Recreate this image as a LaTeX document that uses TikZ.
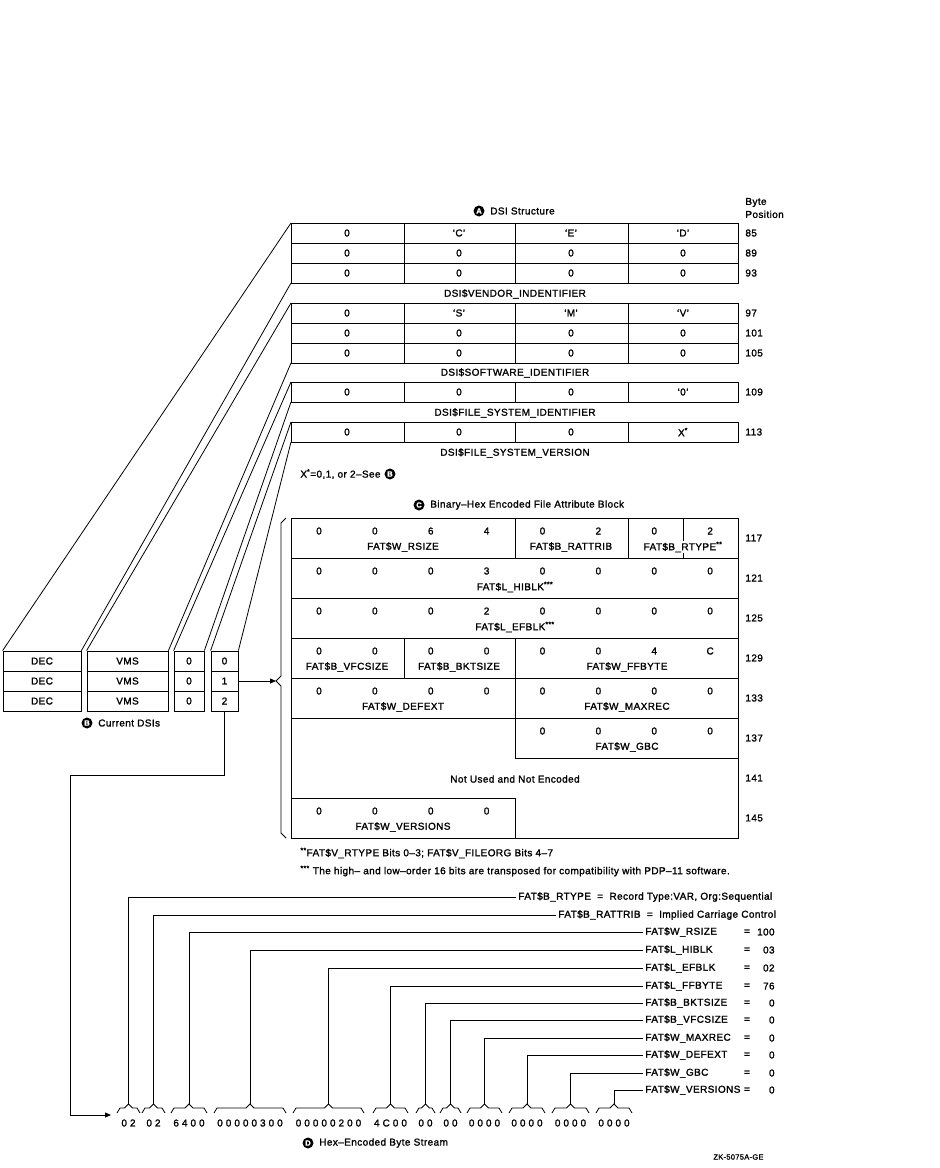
\documentclass[tikz,border=0pt]{standalone}
\usepackage{fontspec}
\setmainfont{Liberation Sans}[LetterSpace=4, FakeBold=1.5]
\newfontfamily\hexfont{Liberation Sans}[LetterSpace=30, FakeBold=1.5]
\usetikzlibrary{calc,arrows.meta}

\tikzset{
	txt/.style={font=\fontsize{10}{12}\selectfont, inner sep=0pt},
	lst/.style={txt, inner sep=2pt, anchor=west},
	note/.style={txt, anchor=west},
	badge/.style={circle, fill=black, text=white, inner sep=0pt, minimum size=11pt, font=\fontsize{7.5}{7.5}\selectfont\bfseries},
	cellbox/.style={draw, txt, minimum height=20pt},
	hexd/.style={inner sep=0pt, font=\fontsize{10}{12}\hexfont},
	arr/.style={-{Triangle[length=6pt,width=5pt]}},
}

\begin{document}
\begin{tikzpicture}[x=1pt, y=-1pt, line width=0.8pt]
	\useasboundingbox (0,0) rectangle (940,1168);
	
	% --- A: DSI structure ---
	\node[badge] (bA) at (479,211) {A};
	\node[note] at ($(bA.east)+(5,0)$) {DSI Structure};
	\node[txt, anchor=west, align=left, font=\fontsize{10}{13}\selectfont] (bpos) at (745,208) {Byte\\Position};
	
	\foreach \t/\n/\nm in {223/3/ven, 303/3/sw, 382/1/fsi, 422/1/fsv}{
		\coordinate (\nm-t) at (291,\t);
		\coordinate (\nm-b) at (291,{\t+20*\n});
		\draw (\nm-t) rectangle (738,{\t+20*\n});
		\foreach \r in {1,...,\n} \draw (291,{\t+20*\r}) -- (738,{\t+20*\r});
		\foreach \x in {404,515,628} \draw (\x,\t) -- (\x,{\t+20*\n});
	}
	\foreach \y/\a/\b/\c/\d/\p in {233/0/`C'/`E'/`D'/85, 253/0/0/0/0/89, 273/0/0/0/0/93,
		313/0/`S'/`M'/`V'/97, 333/0/0/0/0/101, 353/0/0/0/0/105,
		392/0/0/0/`0'/109, 432/0/0/0/X\textsuperscript{*}/113}{
		\node[txt] at (347,\y) {\a};
		\node[txt] at (459,\y) {\b};
		\node[txt] at (571,\y) {\c};
		\node[txt] at (683,\y) {\d};
		\node[txt, anchor=west] at (745,\y) {\p};
	}
	\node[txt] at (515,294) {DSI\$VENDOR\_INDENTIFIER};
	\node[txt] at (515,373) {DSI\$SOFTWARE\_IDENTIFIER};
	\node[txt] at (515,413) {DSI\$FILE\_SYSTEM\_IDENTIFIER};
	\node[txt] at (515,453) {DSI\$FILE\_SYSTEM\_VERSION};
	\node[note] (xnote) at (300,474) {X\textsuperscript{*}=0,1, or 2--See};
	\node[badge] at ($(xnote.east)+(9,0)$) {B};
	
	% --- B: current DSIs ---
	\foreach \cx/\w/\a/\b/\c/\nm in {42/78/DEC/DEC/DEC/dec, 127.5/81/VMS/VMS/VMS/vms, 189/30/0/0/0/zro, 224.5/27/0/1/2/idx}{
		\node[cellbox, minimum width=\w] (\nm0) at (\cx,661) {\a};
		\node[cellbox, minimum width=\w] (\nm1) at (\cx,681) {\b};
		\node[cellbox, minimum width=\w] (\nm2) at (\cx,701) {\c};
	}
	\node[badge] (bB) at (87,723) {B};
	\node[note] at ($(bB.east)+(5,0)$) {Current DSIs};
	
	% slanted leaders from the DSI fields
	\draw (ven-t) -- (dec0.north west) (ven-b) -- (dec0.north east);
	\draw (sw-t) -- (vms0.north west) (sw-b) -- (vms0.north east);
	\draw (fsi-t) -- (zro0.north west) (fsi-b) -- (zro0.north east);
	\draw (fsv-t) -- (idx0.north west) (fsv-b) -- (idx0.north east);
	
	% --- C: file attribute block ---
	\node[badge] (bC) at (419,505) {C};
	\node[note] at ($(bC.east)+(5,0)$) {Binary--Hex Encoded File Attribute Block};
	\draw (291,518) rectangle (738,838);
	\foreach \y in {558,598,638,678,718} \draw (291,\y) -- (738,\y);
	\draw (515,758) -- (738,758);
	\draw (291,798) -- (515,798);
	\draw (515,518) -- (515,558) (628,518) -- (628,558) (683,518) -- (683,558);
	\draw (404,638) -- (404,678) (515,638) -- (515,758) (515,798) -- (515,838);
	
	\foreach \d [count=\i from 0] in {0,0,6,4,0,2,0,2} \node[txt] at ({319+55.875*\i},531) {\d};
	\foreach \d [count=\i from 0] in {0,0,0,3,0,0,0,0} \node[txt] at ({319+55.875*\i},571) {\d};
	\foreach \d [count=\i from 0] in {0,0,0,2,0,0,0,0} \node[txt] at ({319+55.875*\i},611) {\d};
	\foreach \d [count=\i from 0] in {0,0,0,0,0,0,4,C} \node[txt] at ({319+55.875*\i},651) {\d};
	\foreach \d [count=\i from 0] in {0,0,0,0,0,0,0,0} \node[txt] at ({319+55.875*\i},691) {\d};
	\foreach \d [count=\i from 4] in {0,0,0,0} \node[txt] at ({319+55.875*\i},731) {\d};
	\foreach \d [count=\i from 0] in {0,0,0,0} \node[txt] at ({319+55.875*\i},811) {\d};
	
	\node[txt] at (403,547) {FAT\$W\_RSIZE};
	\node[txt] at (571,547) {FAT\$B\_RATTRIB};
	\node[txt, fill=white, inner sep=1pt] at (683,547) {FAT\$B\_RTYPE\textsuperscript{**}};
	\node[txt] at (515,587) {FAT\$L\_HIBLK\textsuperscript{***}};
	\node[txt] at (515,627) {FAT\$L\_EFBLK\textsuperscript{***}};
	\node[txt] at (347,667) {FAT\$B\_VFCSIZE};
	\node[txt] at (459,667) {FAT\$B\_BKTSIZE};
	\node[txt] at (627,667) {FAT\$W\_FFBYTE};
	\node[txt] at (403,707) {FAT\$W\_DEFEXT};
	\node[txt] at (627,707) {FAT\$W\_MAXREC};
	\node[txt] at (627,747) {FAT\$W\_GBC};
	\node[txt] at (515,779) {Not Used and Not Encoded};
	\node[txt] at (403,827) {FAT\$W\_VERSIONS};
	
	\foreach \y/\p in {538/117, 578/121, 618/125, 658/129, 698/133, 738/137, 778/141, 818/145}
		\node[txt, anchor=west] at (745,\y) {\p};
	
	% brace and pointer from the current DSI index
	\coordinate (brtip) at (276,681);
	\draw (286,518) -- (281,523) -- (281,676) -- (brtip) -- (281,686) -- (281,833) -- (286,838);
	\draw[arr] (idx1.east) -- (brtip);
	
	\node[note] at (300,853) {\textsuperscript{**}FAT\$V\_RTYPE Bits 0--3; FAT\$V\_FILEORG Bits 4--7};
	\node[note] at (300,871) {\textsuperscript{***} The high-- and low--order 16 bits are transposed for compatibility with PDP--11 software.};
	
	% --- D: hex-encoded byte stream ---
	\coordinate (bs) at (111,1115);
	\draw[arr] (idx2.south) |- (70,775) |- (bs);
	
	\foreach \xa/\xb/\v [count=\i] in {117/140/02, 142/165/02, 171/207/6400, 214/286/00000300,
		293/364/00000200, 373/408/4C00, 416/435/00, 440/461/00, 467/502/0000,
		509/545/0000, 552/589/0000, 596/632/0000}{
		\node[hexd] (b\i) at ({(\xa+\xb)/2},1123) {\v};
		\coordinate (t\i) at ({(\xa+\xb)/2},1104);
		\draw (\xa,1113) -- ++(3,-5) -- ({(\xa+\xb)/2-4},1108) -- (t\i) -- ({(\xa+\xb)/2+4},1108) -- ({\xb-3},1108) -- (\xb,1113);
	}
	\node[badge] (bD) at (308,1143) {D};
	\node[note] at ($(bD.east)+(5,0)$) {Hex--Encoded Byte Stream};
	
	% field legend
	\node[lst] (l1) at (516,897) {FAT\$B\_RTYPE \ = \ Record Type:VAR, Org:Sequential};
	\node[lst] (l2) at (556,915) {FAT\$B\_RATTRIB \ = \ Implied Carriage Control};
	\draw (t1) |- (l1.west);
	\draw (t2) |- (l2.west);
	\foreach \i/\y/\nm/\val in {3/932/{FAT\$W\_RSIZE}/100, 4/950/{FAT\$L\_HIBLK}/03, 5/968/{FAT\$L\_EFBLK}/02,
		6/986/{FAT\$L\_FFBYTE}/76, 7/1003/{FAT\$B\_BKTSIZE}/0, 8/1020/{FAT\$B\_VFCSIZE}/0,
		9/1038/{FAT\$W\_MAXREC}/0, 10/1055/{FAT\$W\_DEFEXT}/0, 11/1073/{FAT\$W\_GBC}/0, 12/1090/{FAT\$W\_VERSIONS}/0}{
		\node[lst] (l\i) at (643,\y) {\nm};
		\node[txt] at (747,\y) {=};
		\node[txt, anchor=east] at (775,\y) {\val};
		\draw (t\i) |- (l\i.west);
	}
	
	\node[txt, anchor=west, font=\fontsize{7.5}{8}\selectfont] at (713,1157) {ZK-5075A-GE};
\end{tikzpicture}
\end{document}
